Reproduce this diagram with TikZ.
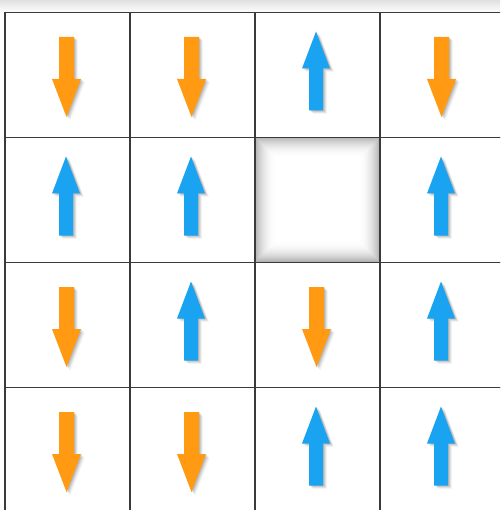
\documentclass[tikz,border=0pt]{standalone}
\definecolor{arrorange}{HTML}{FF9A12}
\definecolor{arrblue}{HTML}{19A3F0}
\definecolor{gridline}{HTML}{3A3A3A}
\tikzset{
  cellbox/.style={draw=gridline, line width=1.3pt, minimum size=125pt, inner sep=0pt, outer sep=0pt},
  dnarrow/.pic={
    \foreach \dx/\dy/\op in {4/3.5/0.04, 3/2.5/0.07, 2/1.5/0.09, 1/0.7/0.1}
      \fill[black,opacity=\op,shift={(\dx,\dy)}] (-8.5,-38) -- (6.5,-38) -- (6.5,4) -- (13.5,4) -- (-1,42) -- (-15.5,4) -- (-8.5,4) -- cycle;
    \fill[arrorange] (-8.5,-38) -- (6.5,-38) -- (6.5,4) -- (13.5,4) -- (-1,42) -- (-15.5,4) -- (-8.5,4) -- cycle;
  },
  uparrow/.pic={
    \foreach \dx/\dy/\op in {4/3.5/0.04, 3/2.5/0.07, 2/1.5/0.09, 1/0.7/0.1}
      \fill[black,opacity=\op,shift={(\dx,\dy)}] (-8.5,35.5) -- (5.5,35.5) -- (5.5,-6.5) -- (12.5,-6.5) -- (-1.5,-43.5) -- (-15.5,-6.5) -- (-8.5,-6.5) -- cycle;
    \fill[arrblue] (-8.5,35.5) -- (5.5,35.5) -- (5.5,-6.5) -- (12.5,-6.5) -- (-1.5,-43.5) -- (-15.5,-6.5) -- (-8.5,-6.5) -- cycle;
  }
}
\begin{document}
\begin{tikzpicture}[x=1pt,y=-1pt]
\useasboundingbox (0,0) rectangle (500,510);
\clip (0,0) rectangle (500,510);
\fill[white] (0,0) rectangle (500,510);
\shade[top color=black!12, bottom color=white] (0,0) rectangle (500,13);
% inner shadow of the empty cell
\foreach \i in {0,...,21}{
  \pgfmathsetmacro\op{0.3*(1-\i/22)^2.2}
  \draw[black, opacity=\op, line width=1pt] (255.5+\i,137.5+\i) rectangle (379.5-\i,261.5-\i);
}
% cells
\foreach \r in {0,...,3}{
  \foreach \c in {0,...,3}{
    \node[cellbox] (cell-\r-\c) at (67.5+125*\c, 75+125*\r) {};
  }
}
% arrows
\pic at (cell-0-0.center) {dnarrow};
\pic at (cell-0-1.center) {dnarrow};
\pic at (cell-0-2.center) {uparrow};
\pic at (cell-0-3.center) {dnarrow};
\pic at (cell-1-0.center) {uparrow};
\pic at (cell-1-1.center) {uparrow};
\pic at (cell-1-3.center) {uparrow};
\pic at (cell-2-0.center) {dnarrow};
\pic at (cell-2-1.center) {uparrow};
\pic at (cell-2-2.center) {dnarrow};
\pic at (cell-2-3.center) {uparrow};
\pic at (cell-3-0.center) {dnarrow};
\pic at (cell-3-1.center) {dnarrow};
\pic at (cell-3-2.center) {uparrow};
\pic at (cell-3-3.center) {uparrow};
\end{tikzpicture}
\end{document}
